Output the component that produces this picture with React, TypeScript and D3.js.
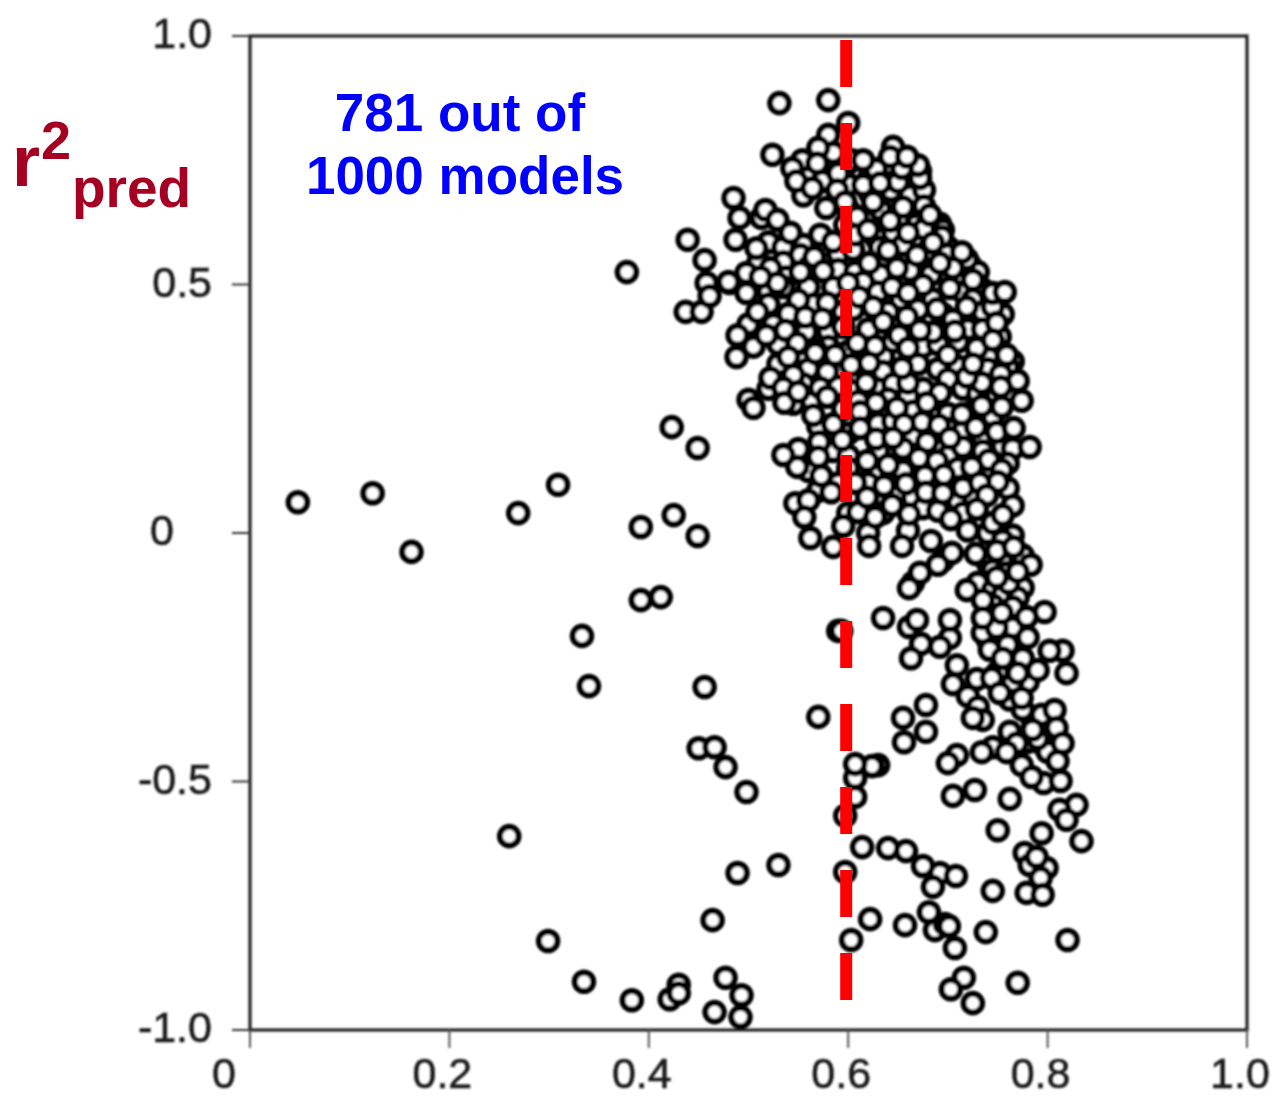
import React from 'react';
import * as d3 from 'd3';

// r2 test vs r2 pred scatter, values as [x, y]
const farLeft: number[][] = [
  [.048, .062], [.123, .080], [.162, -.038], [.269, .040], [.309, .097], [.392, .012], [.425, .036], [.449, -.006],
  [.423, .213], [.449, .171], [.378, .525], [.439, .590], [.456, .549], [.458, .503], [.437, .445], [.453, .445],
  [.481, .503], [.461, .477], [.503, .264], [.500, .268],
  [.333, -.207], [.340, -.308], [.392, -.135], [.412, -.129], [.456, -.310], [.450, -.433], [.466, -.431], [.477, -.471],
  [.498, -.521], [.260, -.610], [.570, -.370], [.590, -.197], [.530, -.668], [.489, -.684],
];

const bottomRow: number[][] = [
  [.464, -.779], [.299, -.821], [.335, -.903], [.383, -.940], [.421, -.938], [.430, -.909], [.430, -.926], [.466, -.964],
  [.477, -.895], [.493, -.930], [.492, -.974], [.603, -.819], [.622, -.777], [.657, -.789], [.681, -.763], [.687, -.799],
  [.697, -.787], [.701, -.791], [.707, -.835], [.738, -.803], [.820, -.819], [.716, -.895], [.703, -.918], [.725, -.946],
  [.770, -.905],
];

// points mostly hidden under the others, seen as the black patches of the cloud
const packedCloud: number[][] = [
  [.562, .727], [.598, .741], [.622, .718], [.638, .741], [.664, .722], [.672, .728], [.655, .745], [.660, .725], [.670, .725], [.665, .735],
  [.555, .679], [.600, .701], [.622, .683], [.643, .689], [.662, .679], [.676, .690],
  [.600, .651], [.618, .632], [.632, .651], [.651, .632], [.668, .640], [.692, .622], [.668, .620],
  [.555, .580], [.597, .620], [.628, .594], [.645, .605], [.676, .612], [.700, .575], [.695, .610],
  [.520, .585], [.535, .575], [.552, .560], [.590, .562], [.605, .570], [.632, .575], [.655, .580], [.680, .568], [.698, .562], [.722, .540],
  [.510, .545], [.535, .545], [.538, .515], [.560, .535], [.590, .530], [.607, .525], [.632, .520], [.662, .528], [.683, .520], [.715, .520], [.730, .525],
  [.520, .485], [.535, .495], [.560, .495], [.585, .495], [.615, .505], [.630, .485], [.653, .470], [.685, .470], [.715, .485], [.735, .490], [.725, .470],
  [.520, .460], [.565, .460], [.595, .445], [.605, .450], [.640, .445], [.670, .450], [.695, .440], [.735, .445], [.755, .440], [.745, .455],
  [.500, .420], [.525, .420], [.558, .405], [.580, .405], [.595, .415], [.620, .410], [.635, .425], [.660, .410], [.695, .390], [.720, .410], [.735, .410], [.752, .395],
  [.505, .375], [.530, .380], [.555, .345], [.580, .375], [.600, .365], [.635, .355], [.645, .385], [.675, .375], [.690, .380], [.710, .385], [.740, .355], [.765, .345],
  [.530, .340], [.560, .330], [.590, .325], [.610, .320], [.635, .325], [.670, .340], [.690, .330], [.710, .335], [.740, .330], [.760, .335],
  [.555, .300], [.590, .295], [.605, .285], [.630, .290], [.645, .300], [.675, .290], [.700, .310], [.715, .290], [.730, .280], [.760, .285], [.768, .305],
  [.520, .290], [.545, .260], [.595, .250], [.610, .265], [.640, .270], [.660, .275], [.665, .245], [.690, .250], [.700, .240], [.725, .245], [.745, .235],
  [.570, .215], [.600, .200], [.630, .220], [.645, .225], [.665, .195], [.700, .210], [.715, .205], [.735, .190], [.755, .175],
  [.585, .165], [.600, .155], [.630, .165], [.655, .170], [.690, .170], [.700, .155], [.735, .165], [.765, .170],
  [.560, .125], [.600, .130], [.625, .120], [.655, .125], [.675, .135], [.710, .130], [.740, .120], [.760, .140],
  [.570, .085], [.590, .100], [.620, .100], [.650, .080], [.665, .070], [.710, .065], [.725, .075], [.760, .090],
  [.600, .040], [.635, .040], [.675, .050], [.690, .045], [.715, .040], [.765, .055],
  [.620, .000], [.660, .005], [.720, .005], [.740, .000], [.765, -.005], [.755, -.015],
  [.695, -.055], [.740, -.060], [.755, -.060], [.775, -.045], [.745, -.075], [.760, -.080],
  [.730, -.100], [.745, -.115], [.775, -.110], [.755, -.125], [.665, -.100], [.745, -.145], [.770, -.130],
  [.750, -.175], [.765, -.190], [.740, -.215], [.760, -.225], [.780, -.210],
  [.785, -.375], [.800, -.370], [.795, -.380], [.800, -.395], [.795, -.425], [.800, -.440], [.780, -.420], [.775, -.355], [.762, -.335], [.780, -.300], [.765, -.300], [.750, -.280],
];

const lowerCloud: number[][] = [
  [.673, -.223], [.663, -.252], [.702, -.211], [.692, -.229], [.735, -.201], [.749, -.191], [.709, -.266], [.705, -.304],
  [.729, -.294], [.742, -.235], [.755, -.252], [.775, -.252], [.815, -.237], [.802, -.237], [.819, -.282], [.790, -.276],
  [.770, -.282], [.744, -.292], [.752, -.322], [.720, -.328], [.730, -.350], [.774, -.332], [.735, -.376], [.725, -.372],
  [.794, -.366], [.807, -.356], [.809, -.392], [.790, -.414], [.815, -.423], [.785, -.396], [.762, -.400], [.769, -.423],
  [.745, -.431], [.734, -.441], [.759, -.441], [.774, -.467], [.810, -.459], [.796, -.503], [.813, -.499], [.784, -.491],
  [.709, -.447], [.700, -.463], [.705, -.529], [.727, -.517], [.762, -.535], [.750, -.598], [.655, -.372], [.678, -.346],
  [.678, -.400], [.656, -.421], [.630, -.467], [.624, -.469], [.607, -.493], [.607, -.465], [.607, -.531], [.597, -.569],
  [.614, -.632], [.640, -.634], [.658, -.640], [.692, -.684], [.675, -.670], [.708, -.690], [.685, -.712], [.597, -.682],
  [.745, -.720], [.829, -.547], [.812, -.557], [.819, -.577], [.834, -.620], [.794, -.604], [.777, -.644], [.782, -.668],
  [.799, -.674], [.789, -.652], [.793, -.694], [.779, -.724], [.795, -.728],
];

const midCloud: number[][] = [
  [.753, .320], [.770, .306], [.579, .324], [.522, .312], [.545, .318], [.535, .292], [.618, .302], [.734, .302],
  [.692, .282], [.660, .302], [.719, .314], [.753, .294], [.774, .266], [.754, .254], [.734, .256], [.714, .239],
  [.628, .262], [.564, .264], [.536, .262], [.550, .284], [.572, .292], [.579, .274], [.505, .252], [.649, .252],
  [.679, .262], [.585, .219], [.565, .237], [.612, .244], [.612, .211], [.674, .223], [.691, .217], [.656, .219],
  [.728, .213], [.749, .203], [.766, .211], [.782, .173], [.715, .173], [.702, .191], [.628, .189], [.571, .183],
  [.550, .169], [.594, .187], [.679, .183], [.645, .191], [.549, .133], [.535, .157], [.570, .153], [.619, .145],
  [.671, .151], [.689, .145], [.741, .147], [.724, .133], [.640, .137], [.754, .127], [.573, .115], [.607, .101],
  [.636, .095], [.658, .099], [.677, .115], [.696, .117], [.678, .082], [.695, .080], [.715, .091], [.750, .103],
  [.732, .101], [.583, .082], [.739, .076], [.547, .060], [.560, .066], [.556, .032], [.610, .042], [.619, .072],
  [.627, .032], [.644, .056], [.661, .038], [.703, .028], [.729, .048], [.745, .020], [.755, .036], [.595, .014],
  [.562, -.010], [.585, -.028], [.621, -.026], [.654, -.026], [.683, -.016], [.704, -.040], [.728, -.042], [.749, -.036],
  [.766, -.028], [.783, -.064], [.690, -.064], [.672, -.080], [.661, -.111], [.719, -.115], [.761, -.101], [.770, -.078],
  [.749, -.089], [.735, -.135], [.765, -.149], [.797, -.159], [.779, -.169], [.735, -.171], [.754, -.161], [.635, -.171],
  [.593, -.197], [.661, -.189], [.702, -.175], [.669, -.175],
];

const upperCloud: number[][] = [
  [.531, .865], [.580, .871], [.600, .825], [.580, .801], [.524, .761], [.585, .765], [.554, .750], [.570, .775],
  [.645, .777], [.544, .734], [.548, .708], [.574, .708], [.628, .732], [.569, .744], [.590, .724], [.650, .706],
  [.672, .714], [.670, .740], [.654, .734], [.615, .700], [.564, .694], [.589, .690], [.604, .750], [.615, .750],
  [.642, .757], [.659, .757], [.632, .704], [.578, .654], [.597, .666], [.625, .666], [.655, .656], [.676, .658],
  [.682, .640], [.609, .636], [.642, .628], [.485, .674], [.491, .634], [.513, .634], [.517, .650], [.529, .630],
  [.542, .604], [.487, .590], [.508, .573], [.572, .600], [.585, .586], [.607, .600], [.620, .610], [.660, .604],
  [.694, .596], [.685, .584], [.640, .569], [.669, .559], [.719, .551], [.714, .565], [.566, .555], [.621, .543],
  [.522, .533], [.498, .523], [.480, .505], [.575, .527], [.552, .525], [.649, .533], [.705, .533], [.692, .543],
  [.600, .503], [.644, .495], [.675, .499], [.660, .483], [.702, .493], [.725, .509], [.745, .483], [.757, .485],
  [.550, .469], [.529, .503], [.512, .515], [.498, .483], [.579, .463], [.611, .475], [.625, .455], [.689, .451],
  [.719, .455], [.509, .445], [.540, .441], [.557, .435], [.574, .431], [.659, .435], [.749, .423], [.705, .429],
  [.489, .398], [.518, .398], [.537, .408], [.707, .406], [.685, .404], [.651, .398], [.672, .408], [.549, .382],
  [.568, .368], [.587, .358], [.609, .382], [.627, .376], [.660, .372], [.700, .358], [.729, .372], [.745, .388],
  [.759, .358], [.488, .354], [.540, .354], [.567, .362], [.603, .338], [.621, .342], [.654, .332], [.725, .340],
];

const allPoints = [...farLeft, ...bottomRow, ...packedCloud, ...lowerCloud, ...midCloud, ...upperCloud];

const xTicks = [0, 0.2, 0.4, 0.6, 0.8, 1.0];
const yTicks = [1.0, 0.5, 0, -0.5, -1.0];
const xTickLabels = ['0', '0.2', '0.4', '0.6', '0.8', '1.0'];
const yTickLabels = ['1.0', '0.5', '0', '-0.5', '-1.0'];
const cutoff = 0.598;
const cutoffRange = [0.992, -0.94];

const x = d3.scaleLinear().domain([0, 1]).range([250, 1247]);
const y = d3.scaleLinear().domain([-1, 1]).range([1030, 36]);

const font = '"Liberation Sans", Arial, sans-serif';
const inkColor = '#1a1a1a';

export default function App() {
  return (
    <svg width={1272} height={1097} style={{ position: 'absolute', left: 0, top: 0, background: '#fff' }}>
      <defs>
        <filter id="soft" x="-5%" y="-5%" width="110%" height="110%">
          <feGaussianBlur stdDeviation="0.8" />
        </filter>
      </defs>

      <g filter="url(#soft)">
        <rect x={x(0)} y={y(1)} width={x(1) - x(0)} height={y(-1) - y(1)} fill="none" stroke="#222" strokeWidth={3.2} />
        {yTicks.map((t) => (
          <line key={t} x1={x(0) - 18} x2={x(0)} y1={y(t)} y2={y(t)} stroke="#333" strokeWidth={2} />
        ))}
        {xTicks.map((t) => (
          <line key={t} x1={x(t)} x2={x(t)} y1={y(-1)} y2={y(-1) + 18} stroke="#555" strokeWidth={2} />
        ))}
        {yTicks.map((t, i) => (
          <text key={t} x={t === 0 ? 174 : 212} y={y(t) + 12} textAnchor="end" fontFamily={font} fontSize={43} fill={inkColor} stroke={inkColor} strokeWidth={0.6}>
            {yTickLabels[i]}
          </text>
        ))}
        {xTicks.map((t, i) => (
          <text key={t} x={x(t) - (t === 0 ? 26 : 7)} y={1088} textAnchor="middle" fontFamily={font} fontSize={43} fill={inkColor} stroke={inkColor} strokeWidth={0.6}>
            {xTickLabels[i]}
          </text>
        ))}
        {allPoints.map((d, i) => (
          <circle key={i} cx={x(d[0])} cy={y(d[1])} r={9.3} fill="#fff" stroke="#050505" strokeWidth={6} />
        ))}
      </g>

      <line
        x1={x(cutoff)}
        x2={x(cutoff)}
        y1={y(cutoffRange[0])}
        y2={y(cutoffRange[1])}
        stroke="#ff0000"
        strokeWidth={12}
        strokeDasharray="47 36"
      />

      <g fontFamily={font} fontWeight="bold" fontSize={53} fill="#0000ff" textAnchor="middle">
        <text x={460} y={131}>781 out of</text>
        <text x={465} y={194}>1000 models</text>
      </g>

      <g fontFamily={font} fontWeight="bold" fill="#a50021">
        <text x={12} y={186} fontSize={72}>r</text>
        <text x={41} y={159} fontSize={54}>2</text>
        <text x={72} y={207} fontSize={55}>pred</text>
      </g>
    </svg>
  );
}
